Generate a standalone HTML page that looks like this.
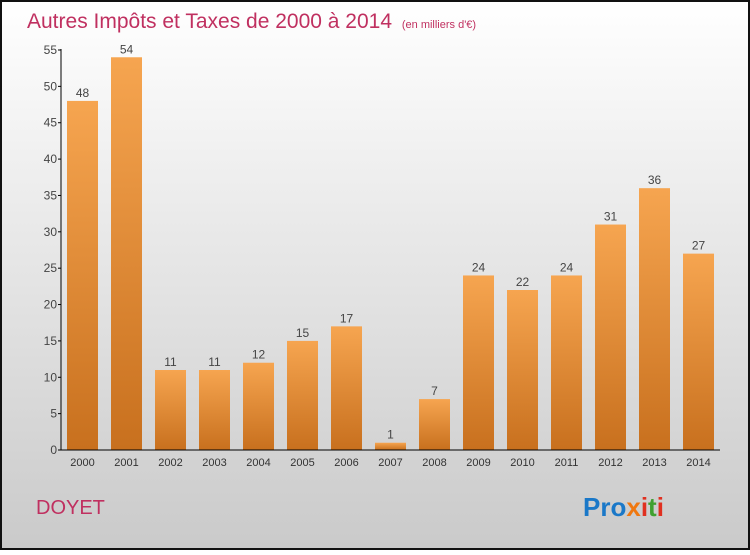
<!DOCTYPE html>
<html><head><meta charset="utf-8"><style>
body{margin:0;width:750px;height:550px;overflow:hidden;font-family:"Liberation Sans",sans-serif}
</style></head><body>
<svg id="c" width="750" height="550" xmlns="http://www.w3.org/2000/svg">
<defs>
<linearGradient id="bg" x1="0" y1="0" x2="0" y2="1"><stop offset="0" stop-color="#ffffff"/><stop offset="1" stop-color="#cacaca"/></linearGradient>
<linearGradient id="bar" x1="0" y1="0" x2="0" y2="1"><stop offset="0" stop-color="#f6a550"/><stop offset="1" stop-color="#c8701e"/></linearGradient>
</defs>
<rect x="1" y="1" width="748" height="548" fill="url(#bg)" stroke="#111" stroke-width="2"/>
<text x="27" y="28" font-size="21" fill="#c03060">Autres Impôts et Taxes de 2000 à 2014 <tspan font-size="11" dx="4">(en milliers d'€)</tspan></text>
<g id="plot"></g>
<text x="36" y="514" font-size="20" fill="#c03060">DOYET</text>
<text x="583" y="516" font-size="26" font-weight="bold"><tspan fill="#1a78c8">Pro</tspan><tspan fill="#f07810">x</tspan><tspan fill="#e03020">i</tspan><tspan fill="#40a030">t</tspan><tspan fill="#e03020">i</tspan></text>
</svg>
<script>
const categories=["2000","2001","2002","2003","2004","2005","2006","2007","2008","2009","2010","2011","2012","2013","2014"];
const values=[48,54,11,11,12,15,17,1,7,24,22,24,31,36,27];
const yTicks=[0,5,10,15,20,25,30,35,40,45,50,55];
const NS="http://www.w3.org/2000/svg";
const g=document.getElementById('plot');
const x0=61,y0=450,yTop=50,yMax=55,step=44,bw=31,first=67;
const y=v=>y0-(v/yMax)*(y0-yTop);
const xb=i=>first+i*step;
function mk(t,a){const e=document.createElementNS(NS,t);for(const k in a)e.setAttribute(k,a[k]);g.appendChild(e);return e;}
values.forEach((v,i)=>{
 const r=mk('rect',{x:xb(i),y:y(v),width:bw,height:y0-y(v),fill:'url(#bar)'});
 
 
 const t=mk('text',{x:xb(i)+bw/2,y:y(v)-4,'font-size':12,'text-anchor':'middle',fill:'#444'});t.textContent=v;
 
 
 const c=mk('text',{x:xb(i)+bw/2,y:y0+16,'font-size':11,'text-anchor':'middle',fill:'#333'});c.textContent=categories[i];
 
 
});
yTicks.forEach(v=>{
 mk('line',{x1:x0-3,x2:x0,y1:y(v),y2:y(v),stroke:'#000'});
 const t=mk('text',{x:x0-4,y:y(v)+4,'font-size':12,'text-anchor':'end',fill:'#444'});t.textContent=v;
 
 
});
const ya=mk('line',{x1:x0,x2:x0,y1:yTop-1,y2:y0,stroke:'#000'});


const xa=mk('line',{x1:x0,x2:720,y1:y0,y2:y0,stroke:'#000'});


</script>
</body></html>
